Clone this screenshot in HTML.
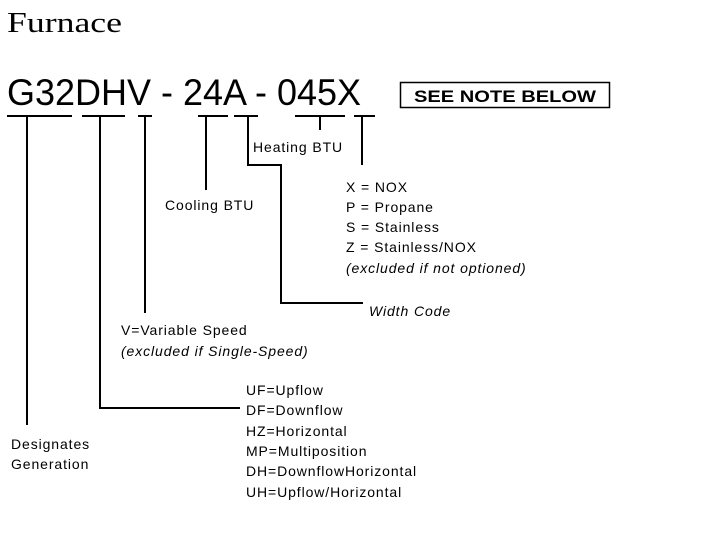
<!DOCTYPE html>
<html><head><style>body{margin:0;background:#fff}</style></head><body>
<svg width="710" height="538" xmlns="http://www.w3.org/2000/svg" style="display:block">
<g font-family="Liberation Sans, sans-serif" fill="#000">
<text x="7" y="32" font-family="Liberation Serif, serif" font-size="29" textLength="115" lengthAdjust="spacingAndGlyphs">Furnace</text>
<text x="7" y="105" font-size="37" textLength="354" lengthAdjust="spacingAndGlyphs">G32DHV - 24A - 045X</text>
<rect x="400.5" y="82.5" width="209" height="25" fill="none" stroke="#000" stroke-width="1.5"/>
<text x="414" y="102" font-size="17" font-weight="bold" textLength="182" lengthAdjust="spacingAndGlyphs">SEE NOTE BELOW</text>
<g font-size="14" letter-spacing="0.9">
<text x="253" y="152">Heating BTU</text>
<text x="165" y="210">Cooling BTU</text>
<text x="346" y="192">X = NOX</text>
<text x="346" y="212">P = Propane</text>
<text x="346" y="232">S = Stainless</text>
<text x="346" y="252">Z = Stainless/NOX</text>
<text x="346" y="273" font-style="italic">(excluded if not optioned)</text>
<text x="369" y="316" font-style="italic">Width Code</text>
<text x="121" y="335">V=Variable Speed</text>
<text x="121" y="356" font-style="italic">(excluded if Single-Speed)</text>
<text x="246" y="395">UF=Upflow</text>
<text x="246" y="415">DF=Downflow</text>
<text x="246" y="436">HZ=Horizontal</text>
<text x="246" y="456">MP=Multiposition</text>
<text x="246" y="476">DH=DownflowHorizontal</text>
<text x="246" y="497">UH=Upflow/Horizontal</text>
<text x="11" y="449">Designates</text>
<text x="11" y="469">Generation</text>
</g>
</g>
<g stroke="#000" stroke-width="2" fill="none">
<path d="M7 116H72M82 116H125M138 116H152M198 116H228M234 116H258M295 116H345M354 116H375"/>
<path d="M27 116V425"/>
<path d="M100 116V408H240"/>
<path d="M145 116V313"/>
<path d="M206 116V190"/>
<path d="M248 116V165H281V303H363"/>
<path d="M320 116V130"/>
<path d="M362 116V165"/>
</g>
</svg>
</body></html>
